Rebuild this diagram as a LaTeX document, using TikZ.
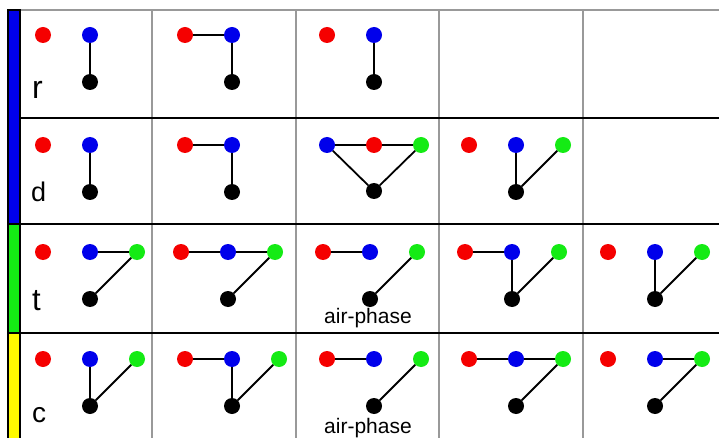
\documentclass[tikz,border=0pt]{standalone}
\usepackage{fontspec}
\setmainfont{Liberation Sans}
\definecolor{dotred}{RGB}{245,0,0}
\definecolor{dotblue}{RGB}{0,0,235}
\definecolor{dotgreen}{RGB}{20,235,20}
\definecolor{baryellow}{RGB}{255,250,0}

% red, blue and black dots of one cell
\newcommand\cellnodes[3]{%
  \node[ball,fill=dotred] (r#1) at (#2,#3) {};
  \node[ball,fill=dotblue] (b#1) at (#2+47,#3) {};
  \node[ball,fill=black] (k#1) at (#2+47,#3+47) {};}
\newcommand\greennode[3]{%
  \node[ball,fill=dotgreen] (g#1) at (#2+94,#3) {};}

\begin{document}
\begin{tikzpicture}[x=1pt,y=-1pt,
    ball/.style={circle,inner sep=0pt,minimum size=16pt},
    link/.style={line width=1.8pt},
    rowname/.style={anchor=base west,inner sep=0pt},
    phase/.style={anchor=base,inner sep=0pt,font=\fontsize{21}{21}\selectfont}]
  \useasboundingbox[fill=white] (0,0) rectangle (719,438);
  % grid
  \draw[gray!80,line width=1.5pt] (20,10) -- (719,10);
  \foreach \x in {152,296,439,583}
    \draw[gray!80,line width=1.5pt] (\x,10) -- (\x,438);
  \foreach \y in {118,224,333}
    \draw[line width=2.5pt] (8,\y) -- (719,\y);
  % colour bar
  \draw[line width=2pt,fill=dotblue] (8,10) rectangle (20,224);
  \draw[line width=2pt,fill=dotgreen] (8,224) rectangle (20,333);
  \draw[line width=2pt,fill=baryellow] (8,333) rectangle (20,440);
  % row names
  \node[rowname,font=\fontsize{32}{32}\selectfont] (rr) at (32,99) {r};
  \node[rowname,font=\fontsize{27}{27}\selectfont] (rd) at (31,202) {d};
  \node[rowname,font=\fontsize{31}{31}\selectfont] (rt) at (32,310) {t};
  \node[rowname,font=\fontsize{28}{28}\selectfont] (rc) at (32,422) {c};

  % row r
  \cellnodes{11}{43}{35}
  \cellnodes{12}{185}{35}
  \cellnodes{13}{327}{35}
  \draw[link] (b11) -- (k11);
  \draw[link] (r12) -- (b12) -- (k12);
  \draw[link] (b13) -- (k13);

  % row d
  \cellnodes{21}{43}{145}
  \cellnodes{22}{185}{145}
  \node[ball,fill=dotblue] (b23) at (327,145) {};
  \node[ball,fill=dotred] (r23) at (374,145) {};
  \node[ball,fill=dotgreen] (g23) at (421,145) {};
  \node[ball,fill=black] (k23) at (374,191) {};
  \cellnodes{24}{469}{145}
  \greennode{24}{469}{145}
  \draw[link] (b21) -- (k21);
  \draw[link] (r22) -- (b22) -- (k22);
  \draw[link] (b23) -- (r23) -- (g23) -- (k23) -- (b23);
  \draw[link] (b24) -- (k24) -- (g24);

  % row t
  \cellnodes{31}{43}{252}
  \greennode{31}{43}{252}
  \cellnodes{32}{181}{252}
  \greennode{32}{181}{252}
  \cellnodes{33}{323}{252}
  \greennode{33}{323}{252}
  \cellnodes{34}{465}{252}
  \greennode{34}{465}{252}
  \cellnodes{35}{608}{252}
  \greennode{35}{608}{252}
  \draw[link] (b31) -- (g31) -- (k31);
  \draw[link] (r32) -- (b32) -- (g32) -- (k32);
  \draw[link] (r33) -- (b33);
  \draw[link] (g33) -- (k33);
  \draw[link] (r34) -- (b34) -- (k34) -- (g34);
  \draw[link] (b35) -- (k35) -- (g35);
  \node[phase] (ap3) at (368,323) {air-phase};

  % row c
  \cellnodes{41}{43}{359}
  \greennode{41}{43}{359}
  \cellnodes{42}{185}{359}
  \greennode{42}{185}{359}
  \cellnodes{43}{327}{359}
  \greennode{43}{327}{359}
  \cellnodes{44}{469}{359}
  \greennode{44}{469}{359}
  \cellnodes{45}{608}{359}
  \greennode{45}{608}{359}
  \draw[link] (b41) -- (k41) -- (g41);
  \draw[link] (r42) -- (b42) -- (k42) -- (g42);
  \draw[link] (r43) -- (b43);
  \draw[link] (g43) -- (k43);
  \draw[link] (r44) -- (b44) -- (g44) -- (k44);
  \draw[link] (b45) -- (g45) -- (k45);
  \node[phase] (ap4) at (368,433) {air-phase};
\end{tikzpicture}
\end{document}
